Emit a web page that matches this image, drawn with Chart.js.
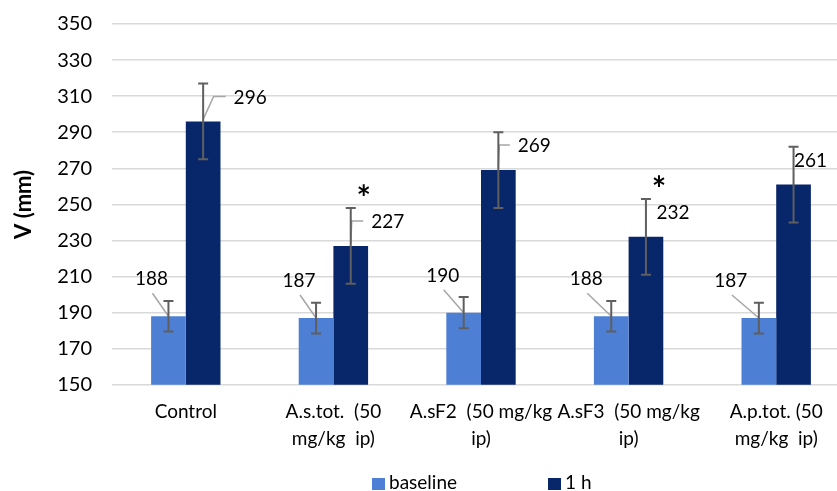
<!DOCTYPE html>
<html>
<head>
<meta charset="utf-8">
<script src="https://cdn.jsdelivr.net/npm/chart.js@4.4.0/dist/chart.umd.min.js"></script>
<style>
    html, body { margin: 0; padding: 0; background: #fff; overflow: hidden; }
    #wrap { position: relative; width: 852px; height: 491px; }
    #legend { position: absolute; top: 472px; left: 0; width: 852px; height: 20px;
              font-family: Lato, sans-serif; font-size: 19px; color: #000; }
    .item { position: absolute; top: 0; white-space: nowrap; line-height: 20px; }
    .swatch { display: inline-block; width: 13px; height: 12px; margin-right: 4px; vertical-align: -1px; }
</style>
</head>
<body>
<div id="wrap">
    <canvas id="chart_canvas"></canvas>
    <div id="legend">
        <span class="item" style="left:372px"><span class="swatch" style="background:#4d7fd4"></span>baseline</span>
        <span class="item" style="left:548px"><span class="swatch" style="background:#08266a"></span>1 h</span>
    </div>
</div>
<script>
// data
const categories = [
    'Control',
    ['A.s.tot.  (50', 'mg/kg  ip)'],
    ['A.sF2  (50 mg/kg', 'ip)'],
    ['A.sF3  (50 mg/kg', 'ip)'],
    ['A.p.tot. (50', 'mg/kg  ip)']
];
const baseline_values = [188, 187, 190, 188, 187];
const baseline_errors = [8.5, 8.5, 8.7, 8.5, 8.5];
const hour_values = [296, 227, 269, 232, 261];
const hour_errors = [21, 21, 21, 21, 21];
const significant = [false, true, false, true, false];   // asterisk over 1 h bar
const y_ticks = [150, 170, 190, 210, 230, 250, 270, 290, 310, 330, 350];

// label placement (pixels, relative to bar top)
const baseline_label_dx = [-17, -17, -21, -25, -28];
const hour_label_dx = [47, 37, 36, 27, 17];

Chart.defaults.font.family = 'Lato, sans-serif';
Chart.defaults.color = '#000';

const extras = {
    id: 'extras',
    afterDatasetsDraw(chart) {
        const ctx = chart.ctx;
        const y = chart.scales.y;
        ctx.save();
        ctx.font = '19px Lato, sans-serif';
        ctx.textAlign = 'center';
        ctx.textBaseline = 'middle';
        chart.data.datasets.forEach((ds, di) => {
            const meta = chart.getDatasetMeta(di);
            meta.data.forEach((bar, i) => {
                const v = ds.data[i];
                const txt = String(v);
                const w = ctx.measureText(txt).width;
                // leader lines + labels
                ctx.strokeStyle = '#a6a6a6';
                ctx.lineWidth = 1.5;
                if (di === 0) {
                    const lx = bar.x + baseline_label_dx[i];
                    const ly = bar.y - 37;
                    ctx.beginPath();
                    ctx.moveTo(lx + 1, ly + 14);
                    ctx.lineTo(bar.x, bar.y);
                    ctx.stroke();
                    ctx.fillStyle = '#000';
                    ctx.fillText(txt, lx, ly);
                } else {
                    const lx = bar.x + hour_label_dx[i];
                    const ly = bar.y - 24;
                    const left = lx - w / 2;
                    if (left - 8 > bar.x + 4) {
                        ctx.beginPath();
                        ctx.moveTo(bar.x, bar.y - 2);
                        ctx.lineTo(Math.max(left - 20, bar.x + 1), ly - 1);
                        ctx.lineTo(left - 8, ly - 1);
                        ctx.stroke();
                    }
                    ctx.fillStyle = '#000';
                    ctx.fillText(txt, lx, ly);
                }
            });
        });
        // error bars
        chart.data.datasets.forEach((ds, di) => {
            const meta = chart.getDatasetMeta(di);
            meta.data.forEach((bar, i) => {
                const v = ds.data[i], e = ds.errors[i];
                const yt = y.getPixelForValue(v + e);
                const yb = y.getPixelForValue(v - e);
                ctx.strokeStyle = '#5f5f5f';
                ctx.lineWidth = 2;
                ctx.beginPath();
                ctx.moveTo(bar.x, yt); ctx.lineTo(bar.x, yb);
                ctx.moveTo(bar.x - 5, yt); ctx.lineTo(bar.x + 5, yt);
                ctx.moveTo(bar.x - 5, yb); ctx.lineTo(bar.x + 5, yb);
                ctx.stroke();
                if (di === 1 && significant[i]) {
                    ctx.font = 'bold 34px Lato, sans-serif';
                    ctx.textBaseline = 'alphabetic';
                    ctx.fillStyle = '#000';
                    ctx.fillText('*', bar.x + 13, yt + 2);
                    ctx.font = '19px Lato, sans-serif';
                    ctx.textBaseline = 'middle';
                }
            });
        });
        ctx.restore();
    }
};

const config = {
    type: 'bar',
    data: {
        labels: categories,
        datasets: [{
            label: 'baseline',
            data: baseline_values,
            errors: baseline_errors,
            backgroundColor: '#4d7fd4'
        }, {
            label: '1 h',
            data: hour_values,
            errors: hour_errors,
            backgroundColor: '#08266a'
        }]
    },
    options: {
        responsive: true,
        maintainAspectRatio: false,
        animation: false,
        datasets: { bar: { categoryPercentage: 0.47, barPercentage: 1.0 } },
        layout: { padding: { top: 24, right: 2, bottom: 33, left: 0 } },
        plugins: { legend: { display: false }, tooltip: { enabled: false } },
        scales: {
            x: {
                grid: { display: false },
                border: { display: false },
                ticks: { font: { size: 19, lineHeight: 1.4 }, padding: 6, maxRotation: 0, autoSkip: false, color: '#000' }
            },
            y: {
                min: 150,
                max: 350,
                afterBuildTicks: (s) => { s.ticks = y_ticks.map(v => ({ value: v })); },
                afterFit: (s) => { s.width = 112; s.paddingTop = 12; s.paddingBottom = 12; },
                grid: { color: '#d9d9d9', lineWidth: 1.5, drawTicks: false },
                border: { display: false },
                ticks: { font: { size: 20 }, padding: 20, color: '#000' },
                title: { display: true, text: 'V (mm)', font: { size: 22, weight: 'bold' }, padding: { top: 11, bottom: 0 }, color: '#000' }
            }
        }
    },
    plugins: [extras]
};

window.onload = function() {
    new Chart(document.getElementById('chart_canvas'), config);
};
</script>
</body>
</html>
